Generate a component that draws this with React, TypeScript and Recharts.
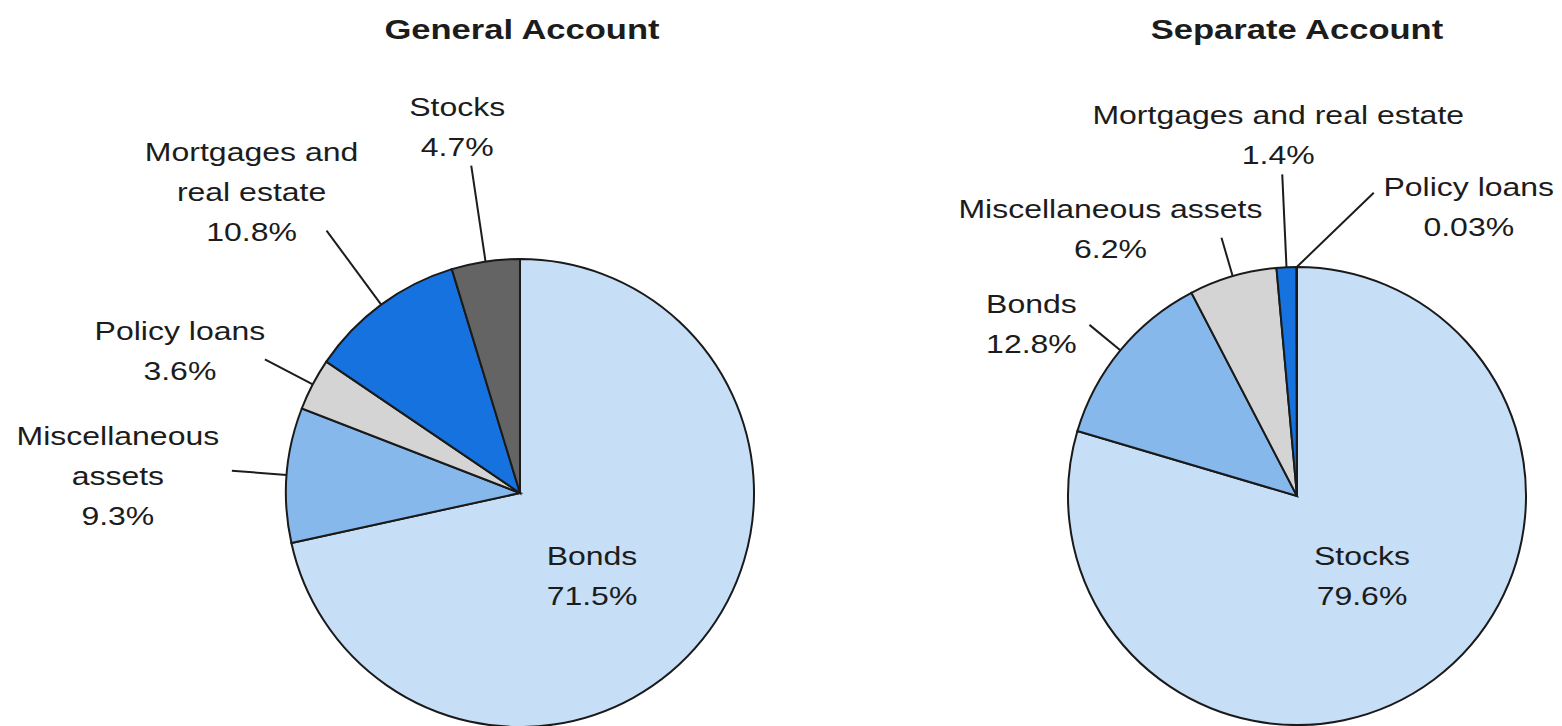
import { PieChart, Pie, Cell } from 'recharts'

// General Account asset mix (%)
const generalNames = ['Bonds', 'Miscellaneous assets', 'Policy loans', 'Mortgages and real estate', 'Stocks']
const generalValues = [71.5, 9.3, 3.6, 10.8, 4.7]
const generalColors = ['#c6def6', '#86b8ec', '#d4d4d4', '#1672de', '#646464']

// Separate Account asset mix (%)
const separateNames = ['Stocks', 'Bonds', 'Miscellaneous assets', 'Mortgages and real estate', 'Policy loans']
const separateValues = [79.6, 12.8, 6.2, 1.4, 0.03]
const separateColors = ['#c6def6', '#86b8ec', '#d4d4d4', '#1672de', '#c6def6']

const generalData = generalNames.map((name, i) => ({ name, value: generalValues[i] }))
const separateData = separateNames.map((name, i) => ({ name, value: separateValues[i] }))

const TEXT = '#1c1c1c'
const SX = 1.28 // the source type is set wide

// label placement: inside (offset from centre) or leader line from the rim
type Lay = { inside?: boolean; len?: number; dir?: number; dx: number; dy: number; lines: string[] }

const generalLayout: Lay[] = [
  { inside: true, dx: 72, dy: 72, lines: ['Bonds'] },
  { len: 55, dx: -114, dy: -26, lines: ['Miscellaneous', 'assets'] },
  { len: 54, dx: -85, dy: -19, lines: ['Policy loans'] },
  { len: 92, dx: -75, dy: -70, lines: ['Mortgages and', 'real estate'] },
  { len: 97, dx: -14, dy: -50, lines: ['Stocks'] },
]

const separateLayout: Lay[] = [
  { inside: true, dx: 65, dy: 69, lines: ['Stocks'] },
  { len: 40, dx: -58, dy: -12, lines: ['Bonds'] },
  { len: 40, dx: -111, dy: -20, lines: ['Miscellaneous assets'] },
  { len: 93, dx: -4, dy: -50, lines: ['Mortgages and real estate'] },
  { len: 107, dir: 44, dx: 95, dy: 3, lines: ['Policy loans'] },
]

const RAD = Math.PI / 180
const LINE_H = 40

const WideText = ({ x, y, children, size = 25, weight = 400 }: any) => (
  <text
    transform={`translate(${x},${y}) scale(${SX},1)`}
    textAnchor="middle"
    fontSize={size}
    fontWeight={weight}
    fontFamily="'Liberation Sans', Arial, sans-serif"
    fill={TEXT}
  >
    {children}
  </text>
)

const makeLabel = (layout: Lay[]) => (props: any) => {
  const { cx, cy, midAngle, outerRadius, index, value } = props
  const lay = layout[index]
  const rows = [...lay.lines, `${value}%`]
  if (lay.inside) {
    return (
      <g>
        {rows.map((r, i) => (
          <WideText key={i} x={cx + lay.dx} y={cy + lay.dy + i * LINE_H}>{r}</WideText>
        ))}
      </g>
    )
  }
  const sx = cx + Math.cos(-midAngle * RAD) * outerRadius
  const sy = cy + Math.sin(-midAngle * RAD) * outerRadius
  const ang = lay.dir ?? midAngle
  const ex = sx + Math.cos(-ang * RAD) * (lay.len ?? 0)
  const ey = sy + Math.sin(-ang * RAD) * (lay.len ?? 0)
  return (
    <g>
      <line x1={sx} y1={sy} x2={ex} y2={ey} stroke={TEXT} strokeWidth={2} />
      {rows.map((r, i) => (
        <WideText key={i} x={ex + lay.dx} y={ey + lay.dy + i * LINE_H}>{r}</WideText>
      ))}
    </g>
  )
}

export default function App() {
  return (
    <div style={{ position: 'absolute', left: 0, top: 0, width: 1562, height: 726, background: '#fff' }}>
      <PieChart width={1562} height={726} margin={{ top: 0, right: 0, bottom: 0, left: 0 }}>
        <Pie
          data={generalData}
          dataKey="value"
          nameKey="name"
          cx={520}
          cy={493}
          outerRadius={234}
          startAngle={90}
          endAngle={-270}
          stroke="#1a1a1a"
          strokeWidth={2}
          label={makeLabel(generalLayout)}
          labelLine={false}
          isAnimationActive={false}
        >
          {generalData.map((_, i) => (
            <Cell key={i} fill={generalColors[i]} />
          ))}
        </Pie>
        <Pie
          data={separateData}
          dataKey="value"
          nameKey="name"
          cx={1297}
          cy={496}
          outerRadius={229}
          startAngle={90}
          endAngle={-270}
          stroke="#1a1a1a"
          strokeWidth={2}
          label={makeLabel(separateLayout)}
          labelLine={false}
          isAnimationActive={false}
        >
          {separateData.map((_, i) => (
            <Cell key={i} fill={separateColors[i]} />
          ))}
        </Pie>
        <WideText x={522} y={39} size={27} weight={700}>General Account</WideText>
        <WideText x={1297} y={39} size={27} weight={700}>Separate Account</WideText>
      </PieChart>
    </div>
  )
}
